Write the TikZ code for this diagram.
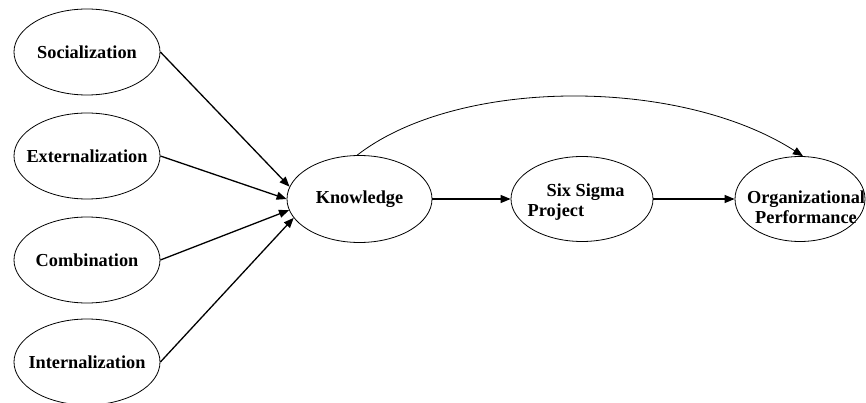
\documentclass[tikz,border=0pt]{standalone}
\usepackage{fontspec}
\setmainfont{Liberation Serif}
\usetikzlibrary{shapes.geometric,arrows.meta}
\begin{document}
\begin{tikzpicture}[x=1pt,y=-1pt,
  ell/.style={draw,ellipse,line width=0.8pt,minimum width=146pt,minimum height=86pt,inner sep=0pt},
  txt/.style={inner sep=0pt,font=\fontsize{18.3}{20}\selectfont\bfseries},
  arr/.style={line width=1.3pt,-{Triangle[length=10pt,width=8pt]}},
  carr/.style={line width=0.8pt,-{Triangle[length=10pt,width=8pt]}}]
\path[use as bounding box] (0,0) rectangle (866,403);
\node[ell,label={[txt]center:Socialization}] (soc) at (87,52) {};
\node[ell,label={[txt]center:Externalization}] (ext) at (87,156) {};
\node[ell,label={[txt]center:Combination}] (com) at (87,260) {};
\node[ell,label={[txt]center:Internalization}] (int) at (87,362) {};
\node[ell,minimum width=145pt,minimum height=87pt,label={[txt]center:Knowledge}] (kn) at (359.5,199) {};
\node[ell,minimum width=142pt,minimum height=85pt] (ss) at (582,199) {};
\node[txt,align=left] (sst) at (576,202) {\hspace*{19pt}Six Sigma\\Project};
\node[ell,minimum width=130pt,minimum height=85pt] (org) at (800,199) {};
\node[txt,align=center] (orgt) at (806,207) {Organizational\\Performance};
\draw[arr] (soc.east) -- (kn.170);
\draw[arr] (ext.east) -- (kn.180);
\draw[arr] (com.east) -- (kn.189);
\draw[arr] (int.east) -- (kn.196);
\draw[arr] (kn.east) -- (ss.west);
\draw[arr] (ss.east) -- (org.west);
\draw[carr] (kn.93) .. controls (458,77) and (680,77) .. (org.86);
\end{tikzpicture}
\end{document}
